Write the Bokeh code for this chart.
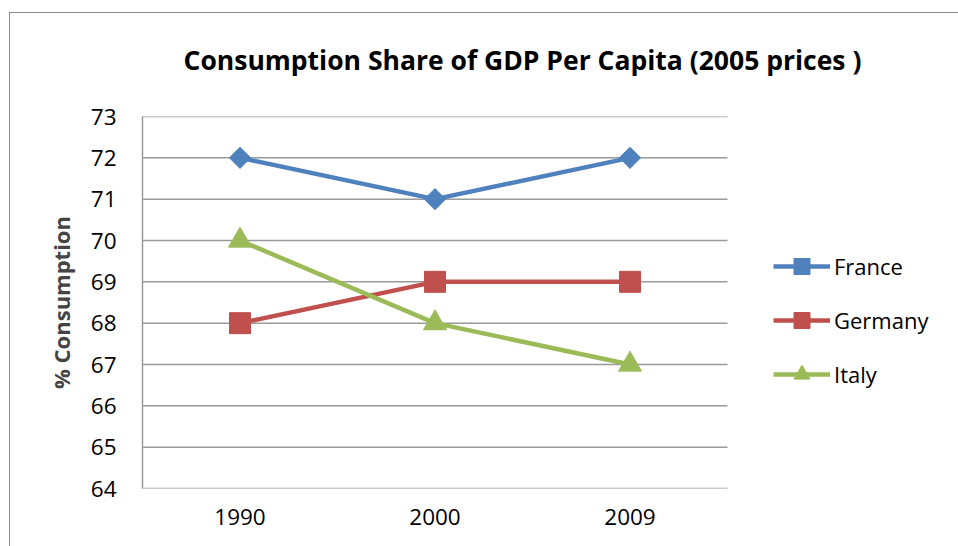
from bokeh.plotting import figure
from bokeh.models import Legend, LegendItem, Range1d, FixedTicker, InlineStyleSheet
from bokeh.embed import file_html
from bokeh.resources import INLINE
import math

years = ["1990", "2000", "2009"]
france = [72, 71, 72]
germany = [68, 69, 69]
italy = [70, 68, 67]
y_ticks = list(range(64, 74))

FONT = "Open Sans"
xs = list(range(len(years)))
GRID = "#9a9a9a"

# frame: 800 px wide, 195 px per category; right part of frame holds the legend
p = figure(x_range=Range1d(-0.5, -0.5 + 800 / 195), y_range=Range1d(64, 73),
           width=958, height=546,
           output_backend="svg", toolbar_location=None,
           min_border_left=142, min_border_right=16, min_border_top=116, min_border_bottom=58,
           title="Consumption Share of GDP Per Capita (2005 prices )")
p.outline_line_color = None
p.background_fill_color = None
p.border_fill_color = None

# thin outer chart border (left and top edges visible in the reference)
BORDER_CSS = ("background: linear-gradient(#8c8c8c,#8c8c8c) 9px 12px / 1px 100% no-repeat, "
              "linear-gradient(#8c8c8c,#8c8c8c) 9px 12px / 100% 1px no-repeat, white;")
p.stylesheets = [InlineStyleSheet(css=":host { " + BORDER_CSS + " }")]

p.title.text_font = FONT
p.title.text_font_style = "bold"
p.title.text_font_size = "26.5px"
p.title.align = "left"
p.title.offset = 41
p.title.standoff = 77
p.title.text_color = "black"

# axes
p.yaxis.ticker = FixedTicker(ticks=y_ticks)
p.yaxis.axis_label = "% Consumption"
p.yaxis.axis_label_text_font = FONT
p.yaxis.axis_label_text_font_style = "bold"
p.yaxis.axis_label_text_font_size = "22px"
p.yaxis.axis_label_standoff = 12
p.yaxis.axis_line_color = GRID
p.yaxis.axis_line_width = 1.5
p.xaxis.ticker = FixedTicker(ticks=xs)
p.xaxis.major_label_overrides = {i: y for i, y in zip(xs, years)}
p.xaxis.axis_line_color = None
for ax in (p.xaxis[0], p.yaxis[0]):
    ax.major_tick_in = 0
    ax.major_tick_out = 0
    ax.minor_tick_in = 0
    ax.minor_tick_out = 0
    ax.major_label_text_font = FONT
    ax.major_label_text_font_size = "22.5px"
    ax.major_label_text_color = "black"
p.yaxis.major_label_standoff = 26
p.xaxis.major_label_standoff = 20

p.xgrid.grid_line_color = None
p.ygrid.grid_line_color = None
# horizontal gridlines only across the category area
p.segment(x0=[-0.5] * len(y_ticks), x1=[len(years) - 0.5] * len(y_ticks),
          y0=y_ticks, y1=y_ticks, line_color=GRID, line_width=1.5)

series = [
    ("France", france, "#4F81BD", "square", 15, math.pi / 4),
    ("Germany", germany, "#C0504D", "square", 21, 0),
    ("Italy", italy, "#9BBB59", "triangle", 23, 0),
]
items = []
for name, vals, color, marker, size, ang in series:
    ln = p.line(xs, vals, line_color=color, line_width=4.5)
    sc = p.scatter(xs, vals, marker=marker, size=size, angle=ang,
                   fill_color=color, line_color=color)
    items.append(LegendItem(label=name, renderers=[ln, sc]))

legend = Legend(items=items, location=(631, 94), glyph_width=57, glyph_height=40,
                spacing=14, padding=0, margin=0, label_standoff=4,
                label_text_font=FONT, label_text_font_size="22px",
                label_text_color="black",
                border_line_color=None, background_fill_alpha=0)
p.add_layout(legend, "center")

open("out.html", "w").write(file_html(p, INLINE))
